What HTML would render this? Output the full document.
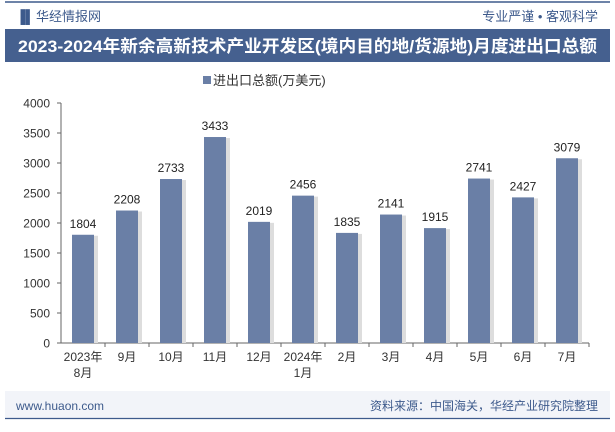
<!DOCTYPE html>
<html><head><meta charset="utf-8"><style>
body{margin:0;width:615px;height:427px;overflow:hidden;background:#fff;font-family:"Liberation Sans","Noto Sans CJK SC",sans-serif;}
</style></head><body>
<svg width="615" height="427" xmlns="http://www.w3.org/2000/svg" style="font-family:'Liberation Sans','Noto Sans CJK SC',sans-serif">
<line x1="5" y1="2" x2="610" y2="2" stroke="#3d5a8c" stroke-width="1.5"/>
<text x="16" y="21" font-size="13" fill="#3d5a8c">▐▌</text>
<text x="36" y="21" font-size="13" fill="#3d5a8c">华经情报网</text>
<text x="598" y="21" font-size="13" fill="#3d5a8c" text-anchor="end">专业严谨 • 客观科学</text>
<rect x="5" y="29" width="605" height="33" fill="#45608f"/>
<text x="18" y="52" font-size="17" font-weight="bold" fill="#fff" textLength="579" lengthAdjust="spacingAndGlyphs">2023-2024年新余高新技术产业开发区(境内目的地/货源地)月度进出口总额</text>
<rect x="203" y="76" width="8" height="8" fill="#6a7fa6"/>
<text x="213" y="85" font-size="13" fill="#333">进出口总额(万美元)</text>
<g id="plot"></g>
<rect x="5" y="391" width="605" height="27" fill="#f2f4f9"/>
<line x1="5" y1="418.5" x2="610" y2="418.5" stroke="#3d5a8c" stroke-width="1.2"/>
<text x="16" y="410" font-size="12" fill="#3d5a8c">www.huaon.com</text>
<text x="598" y="410" font-size="12" fill="#3d5a8c" text-anchor="end">资料来源：中国海关，华经产业研究院整理</text>
</svg>
<script>
const categories=["2023年|8月","9月","10月","11月","12月","2024年|1月","2月","3月","4月","5月","6月","7月"];
const values=[1804,2208,2733,3433,2019,2456,1835,2141,1915,2741,2427,3079];
const yTicks=[0,500,1000,1500,2000,2500,3000,3500,4000];
const NS="http://www.w3.org/2000/svg";
const g=document.getElementById('plot');
const x0=61,cw=44,y0=343,yTop=103,yMax=4000;
const y=v=>y0-(v/yMax)*(y0-yTop);
function mk(t,a){const e=document.createElementNS(NS,t);for(const k in a)e.setAttribute(k,a[k]);g.appendChild(e);return e;}
yTicks.forEach(t=>{
const tl=mk('line',{x1:x0-4,x2:x0,y1:y(t),y2:y(t),stroke:'#666'});


const tx=mk('text',{x:x0-11,y:y(t)+4.5,'font-size':12,fill:'#333','text-anchor':'end'});
tx.textContent=t;


});
const ya=mk('line',{x1:x0,x2:x0,y1:yTop,y2:y0,stroke:'#666'});


const xa=mk('line',{x1:x0,x2:x0+cw*categories.length,y1:y0,y2:y0,stroke:'#666'});


categories.forEach((c,i)=>{
const cx=x0+cw*i+cw/2;
const tk=mk('line',{x1:x0+cw*(i+1),x2:x0+cw*(i+1),y1:y0,y2:y0+4,stroke:'#666'});


const sh=mk('rect',{x:cx+11,y:y(values[i])+1,width:4,height:y0-y(values[i])-1,fill:'#ddd'});


const b=mk('rect',{x:cx-11,y:y(values[i]),width:22,height:y0-y(values[i]),fill:'#6a7fa6'});


const vl=mk('text',{x:cx,y:y(values[i])-7,'font-size':12,fill:'#222','text-anchor':'middle'});
vl.textContent=values[i];


c.split('|').forEach((ln,j)=>{
const t=mk('text',{x:cx,y:y0+18+j*16,'font-size':12,fill:'#333','text-anchor':'middle'});
t.textContent=ln;


});
});
</script>
</body></html>
